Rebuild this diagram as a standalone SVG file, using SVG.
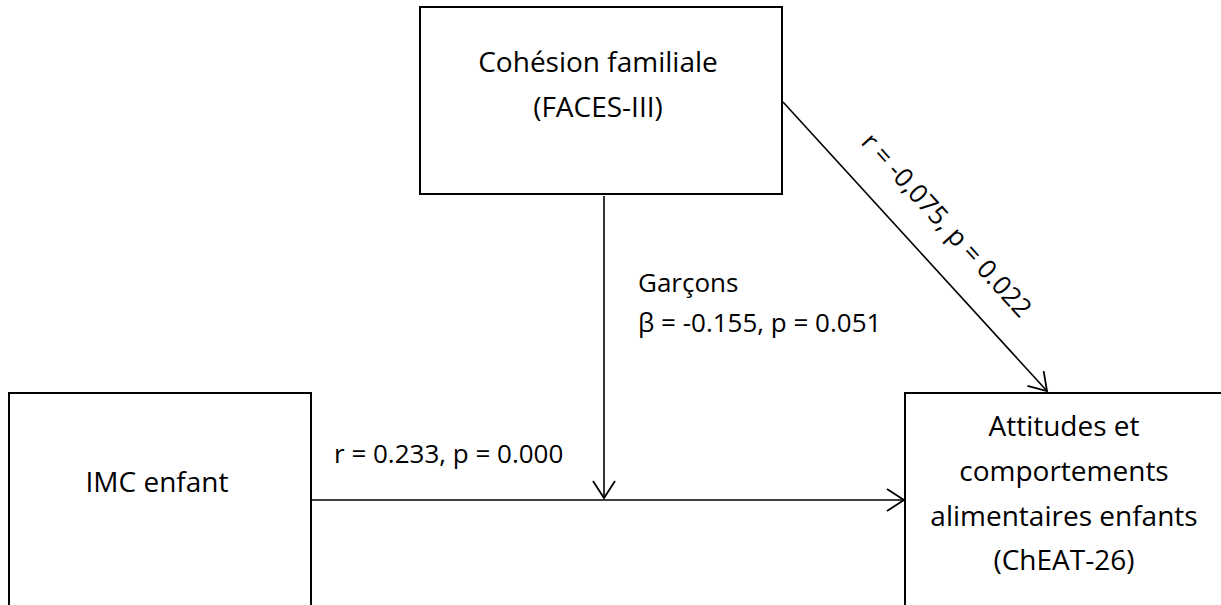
<svg xmlns="http://www.w3.org/2000/svg" width="1221" height="605" viewBox="0 0 1221 605">
<style>
.box{fill:#fff;stroke:#000;stroke-width:2}
.t{font-family:"Open Sans","Liberation Sans",sans-serif;font-size:26px;fill:#000}
.n{font-size:28px}
.c{text-anchor:middle}
.ln{stroke:#000;stroke-width:1.6;fill:none}
</style>
<defs>
<marker id="ah" markerUnits="userSpaceOnUse" viewBox="0 0 20 24" markerWidth="20" markerHeight="24" refX="18" refY="12" orient="auto">
<path d="M1,1 L18,12 L1,23" fill="none" stroke="#000" stroke-width="1.8"/>
</marker>
</defs>
<rect width="1221" height="605" fill="#fff"/>
<g id="connectors">
<line class="ln" x1="604" y1="196" x2="604" y2="498" marker-end="url(#ah)"/>
<line class="ln" x1="311" y1="500" x2="904" y2="500" marker-end="url(#ah)"/>
<line class="ln" x1="783" y1="102" x2="1047" y2="391" marker-end="url(#ah)"/>
<text class="t" x="638" y="292">Garçons</text>
<text class="t" x="638" y="332">β = -0.155, p = 0.051</text>
<text class="t" x="334" y="463">r = 0.233, p = 0.000</text>
<text class="t c" transform="translate(940,231) rotate(47.7)">r = -0,075, p = 0.022</text>
</g>
<g id="node-cohesion">
<rect class="box" x="420" y="7" width="362" height="187"/>
<text class="t n c" x="598" y="72">Cohésion familiale</text>
<text class="t n c" x="598" y="117">(FACES-III)</text>
</g>
<g id="node-imc">
<rect class="box" x="9" y="393" width="302" height="230"/>
<text class="t n c" x="157" y="492">IMC enfant</text>
</g>
<g id="node-cheat">
<rect class="box" x="905" y="393" width="330" height="230"/>
<text class="t n c" x="1064" y="436">Attitudes et</text>
<text class="t n c" x="1064" y="481">comportements</text>
<text class="t n c" x="1064" y="526">alimentaires enfants</text>
<text class="t n c" x="1064" y="570">(ChEAT-26)</text>
</g>
</svg>
